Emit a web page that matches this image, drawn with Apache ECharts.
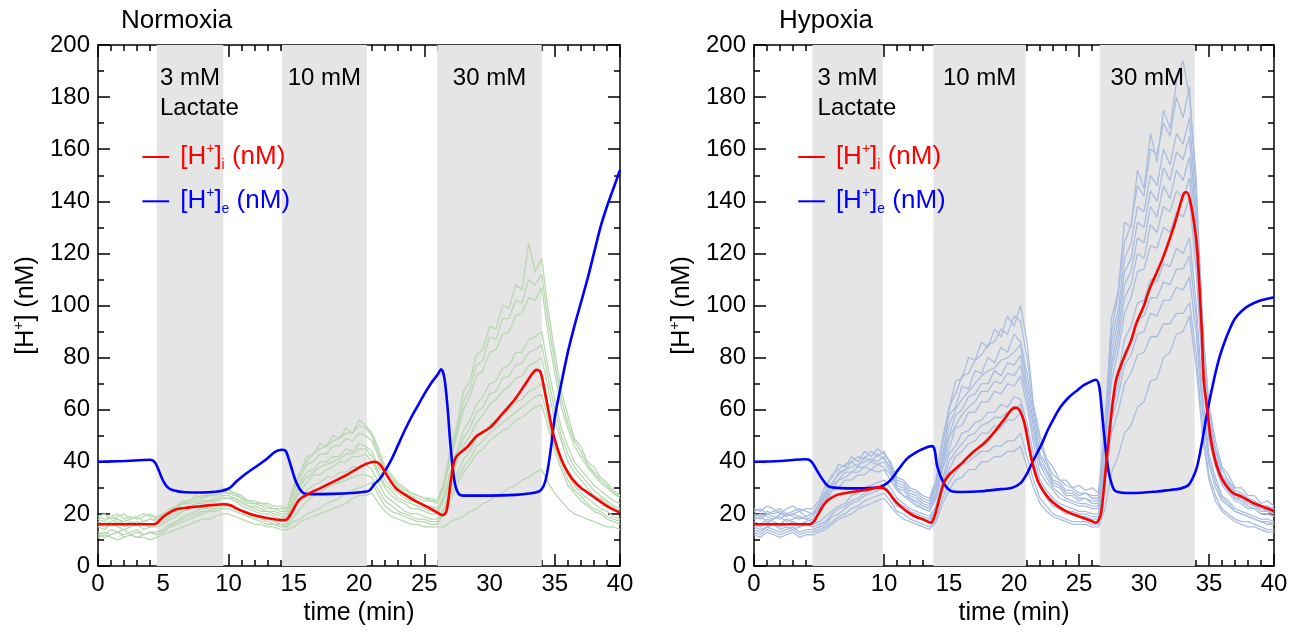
<!DOCTYPE html>
<html>
<head>
<meta charset="utf-8">
<script src="https://cdn.jsdelivr.net/npm/echarts@6/dist/echarts.min.js"></script>
<style>
html, body { margin: 0; padding: 0; background: #fff; }
#chart { width: 1303px; height: 633px; }
</style>
</head>
<body>
<div id="chart"></div>
<script>
// sample times of the single-cell traces (min)
const traceTimes = [0,0.5,1,1.5,2,2.5,3,3.5,4,4.5,5,5.5,6,6.5,7,7.5,8,8.5,9,9.5,10,10.5,11,11.5,12,12.5,13,13.5,14,14.5,15,15.5,16,16.5,17,17.5,18,18.5,19,19.5,20,20.5,21,21.5,22,22.5,23,23.5,24,24.5,25,25.5,26,26.5,27,27.5,28,28.5,29,29.5,30,30.5,31,31.5,32,32.5,33,33.5,34,34.5,35,35.5,36,36.5,37,37.5,38,38.5,39,39.5,40];

// lactate periods (min)
const bandsNormoxia = [[4.5, 9.6], [14.1, 20.6], [26.0, 34.0]];
const bandsHypoxia = [[4.5, 9.9], [13.8, 20.9], [26.6, 33.9]];
const bandLabels = ['3 mM', '10 mM', '30 mM'];

// single cells, normoxia (green)
const normoxiaCells = [
  [19,20,18,19,20,18,19,20,19,19, 20,22,23,25,25,27,26,28,28,30,29, 28,27,25,25,24,24,23,23,22, 31,36,42,43,47,46,50,49,53,51,56,54, 51,45,38,35,32,30,28,27,26,26,25, 32,45,54,67,71,81,83,92,91,100,99,108,106,124,113,118, 98,82,67,58,49,46,40,38,34,32,29,27],
  [19,18,19,20,18,19,18,19,20,18, 20,21,23,24,25,26,27,27,28,29,28, 28,26,25,24,24,23,22,22,22, 30,36,40,43,45,46,48,49,51,51,54,53, 50,43,37,34,31,29,28,27,26,25,25, 31,43,52,63,68,77,79,88,87,95,95,102,101,110,108,112, 94,78,64,55,48,44,39,36,33,31,28,27],
  [18,17,19,18,17,18,19,17,18,18, 19,21,22,24,24,25,26,27,27,28,28, 27,26,24,24,23,22,22,21,21, 29,34,39,40,43,43,46,46,49,48,51,50, 48,42,36,33,30,28,27,26,25,25,24, 30,41,50,60,65,73,75,82,83,89,90,96,97,103,102,107, 89,74,61,53,46,42,38,35,32,30,28,26],
  [17,16,17,18,16,17,16,17,18,17, 18,20,21,22,23,24,25,25,26,27,27, 26,25,23,23,22,21,21,20,20, 27,32,36,37,40,40,42,42,45,44,47,46, 44,38,33,30,28,26,25,24,23,23,22, 27,36,44,52,56,62,65,70,71,76,77,82,82,87,88,90, 76,64,53,46,40,37,34,31,29,27,25,24],
  [16,15,16,17,15,16,17,16,15,16, 17,19,20,22,22,24,24,25,25,26,26, 26,24,23,22,21,21,20,19,19, 25,31,34,36,38,39,40,41,43,43,45,45, 42,36,31,29,26,25,24,23,22,21,21, 26,34,42,49,53,59,61,66,67,72,73,77,78,82,83,85, 72,60,50,43,38,35,32,29,27,25,23,22],
  [15,14,16,15,14,15,16,14,15,15, 16,18,19,21,22,23,23,24,25,26,26, 25,23,22,21,20,20,19,18,18, 24,29,32,35,35,37,38,40,40,42,42,43, 40,35,30,27,25,24,22,22,21,20,20, 25,32,40,46,50,55,58,62,64,67,69,72,73,77,78,80, 68,56,48,40,36,33,30,27,26,24,22,21],
  [13,12,14,13,12,13,14,12,13,13, 14,16,17,19,20,21,22,22,23,24,24, 23,21,20,19,18,18,17,16,16, 22,26,29,31,32,34,34,36,36,38,38,39, 37,32,27,25,23,21,20,20,19,18,18, 22,29,35,41,44,49,51,54,56,59,60,63,64,67,68,70, 59,49,41,35,31,28,26,24,22,21,19,18],
  [12,13,12,13,14,12,13,12,13,12, 13,15,17,18,19,20,21,21,22,23,23, 22,21,19,19,18,17,16,16,15, 19,22,25,27,28,30,31,32,33,34,35,35, 34,29,25,23,21,20,19,18,18,17,17, 21,27,33,38,41,46,48,51,53,55,57,59,61,63,65,66, 56,46,39,33,29,27,24,22,21,19,18,17],
  [12,11,12,13,11,12,11,12,13,12, 13,15,16,17,18,19,20,21,21,22,22, 21,20,19,18,17,16,16,15,15, 17,18,20,21,22,24,25,26,28,29,30,31, 32,27,23,21,20,19,18,17,17,16,16, 20,25,31,36,39,43,45,48,50,52,53,56,57,59,61,62, 53,44,37,31,28,25,23,21,20,18,17,16],
  [11,12,11,10,11,12,11,11,10,11, 12,13,14,15,16,17,18,18,19,20,20, 19,18,17,16,16,15,15,14,14, 15,17,18,19,20,21,22,23,24,26,27,27, 28,24,21,19,18,17,16,16,15,15,15, 15,17,18,19,21,22,24,25,27,28,30,31,33,34,36,37, 32,28,25,22,20,19,18,17,16,15,15,14]
];

// single cells, hypoxia (light blue)
const hypoxiaCells = [
  [22,21,23,22,20,22,23,21,22,22, 25,31,34,39,38,42,40,44,42,45,43, 40,34,33,30,29,27,26, 33,49,60,71,72,80,79,86,84,91,88,96,92,100, 86,62,50,41,38,33,33,30,31,29,30,28, 55,95,105,132,130,152,145,166,155,175,168,186,194,180, 150,92,62,48,38,35,30,30,27,27,24,25,23],
  [21,22,20,21,22,20,21,22,21,20, 24,29,35,37,39,40,42,41,44,42,44, 39,33,32,29,28,26,25, 32,46,61,66,73,74,79,81,85,86,91,89,96,94, 80,60,47,40,35,33,31,30,28,28,27,27, 53,90,104,124,131,146,142,160,158,170,165,180,172,184, 144,93,60,45,37,33,29,28,26,25,23,23,22],
  [20,19,21,20,21,19,20,21,19,20, 23,28,31,36,37,40,38,42,40,43,41, 38,32,31,28,27,25,24, 31,42,58,61,69,68,75,74,80,78,84,82,89,86, 74,58,43,39,33,32,29,29,27,28,26,26, 52,86,98,118,124,138,136,150,146,160,154,166,162,172, 138,90,56,44,35,32,28,27,26,23,23,21,22],
  [19,20,19,18,20,19,20,19,18,19, 22,27,32,35,37,38,39,40,41,40,42, 37,31,30,27,26,24,23, 30,41,54,60,64,67,70,73,75,76,79,80,82,85, 70,55,42,37,32,31,28,28,26,26,25,25, 50,82,94,113,118,132,130,144,140,153,148,159,156,165, 132,86,54,42,34,31,27,26,25,23,22,21,20],
  [19,18,20,19,18,20,19,18,19,20, 22,26,31,33,36,36,38,38,40,39,40, 36,30,29,26,25,23,22, 28,40,50,58,60,65,66,70,70,75,73,78,77,81, 67,53,40,36,31,30,27,27,25,26,24,24, 48,78,90,108,113,126,124,138,134,146,141,152,148,157, 126,82,52,41,33,30,26,26,24,23,21,21,20],
  [18,19,17,18,19,17,18,19,18,17, 20,25,29,33,34,36,36,38,37,39,38, 35,30,27,26,24,22,21, 27,38,49,54,58,61,63,67,67,71,70,74,73,77, 64,50,39,34,30,28,26,25,24,24,23,23, 46,75,86,103,108,120,118,131,128,138,136,144,141,149, 120,79,50,40,32,29,26,25,23,22,20,20,19],
  [17,16,18,17,16,18,17,16,17,18, 20,24,29,30,33,33,35,35,37,36,37, 33,29,27,25,23,22,21, 26,37,45,53,54,59,59,63,63,67,66,70,69,73, 61,47,36,32,29,26,25,24,23,23,22,22, 44,71,82,97,103,113,114,123,122,130,128,136,134,141, 114,75,48,38,31,28,25,24,22,22,20,20,19],
  [16,15,17,16,15,16,17,15,16,16, 17,19,21,23,24,27,28,30,31,32,33, 30,26,24,22,21,20,19, 23,33,43,46,51,52,55,56,59,59,62,61,65,64, 55,43,33,29,26,24,23,22,21,21,20,20, 40,63,73,87,92,101,102,110,109,116,115,122,120,126, 102,66,43,34,27,25,22,21,20,19,18,18,17],
  [15,14,15,16,14,15,14,15,16,15, 16,17,20,22,23,25,26,28,29,30,31, 28,24,23,21,20,19,18, 22,31,40,44,47,50,51,54,55,57,57,59,60,62, 52,40,31,27,25,23,21,21,20,20,19,19, 37,60,69,82,86,95,96,103,103,109,108,114,114,119, 96,62,41,32,26,24,21,20,19,18,17,16,16],
  [14,13,15,14,13,14,15,13,14,14, 15,16,19,20,22,24,25,27,28,29,30, 27,23,22,20,19,18,17, 21,30,37,42,44,47,48,51,51,54,53,56,56,59, 49,38,30,26,23,22,20,20,19,19,18,18, 35,56,65,77,81,89,90,97,96,102,102,107,106,111, 90,59,39,30,25,23,21,20,19,18,17,17,16],
  [13,12,14,13,12,13,14,12,13,13, 14,15,17,19,20,22,23,25,26,27,28, 25,21,20,18,17,16,15, 18,26,32,36,39,40,42,44,44,46,46,48,48,51, 42,33,26,23,20,19,18,17,17,17,16,16, 32,51,59,70,74,81,82,88,88,93,93,97,97,101, 82,53,35,27,22,20,18,17,17,16,15,14,14],
  [12,11,13,12,11,12,13,11,12,12, 13,14,16,18,19,20,22,23,24,25,26, 23,20,18,17,16,15,14, 17,24,29,33,34,37,37,40,40,42,42,44,44,46, 38,30,24,21,19,18,17,16,16,16,15,15, 22,36,42,51,54,61,63,71,72,80,82,89,90,96, 77,50,33,25,21,19,17,16,15,15,14,13,13]
];

// [H+]i and [H+]e, [time, nM]
const hiNormoxia = [[0,16],[2,16],[4.2,16],[4.5,16.4],[5,18.9],[5.5,20.6],[6,21.8],[7,22.5],[8,23],[9,23.5],[9.6,23.7],[10.2,23.2],[10.6,22.1],[11.2,20.8],[11.9,19.6],[13.1,18.3],[14,17.6],[14.4,17.7],[14.8,20.2],[15.4,25.3],[16.2,27.9],[17,29.8],[18,32.3],[19,34.8],[20,37.8],[20.6,39.3],[21.2,40],[21.6,39],[22.2,34.3],[22.8,30],[23.7,26.8],[24.5,24.5],[25.3,22.5],[26,20.5],[26.4,19.5],[26.7,21],[27.05,33],[27.4,41.5],[28.3,45.7],[29,49.8],[30.1,53.4],[31,58.5],[31.9,63.7],[32.7,69.5],[33.3,74],[33.6,75.3],[33.9,74.5],[34.2,68],[34.7,55],[35,48.5],[35.5,41],[36,36],[36.5,32.5],[37,30],[38,26.5],[39,23],[40,20.5]];
const heNormoxia = [[0,40],[2,40.3],[4,40.8],[4.4,39.5],[4.96,33],[5.3,30.4],[5.7,29.2],[6.7,28.3],[8,28.2],[9,28.5],[9.6,29],[10.1,30],[10.6,32.4],[11.3,35.3],[12.1,38.1],[12.9,41],[13.6,43.9],[14.1,44.6],[14.4,44],[14.8,38.1],[15.2,32],[15.7,28.1],[16.3,27.6],[18,27.7],[19.5,28],[20.3,28.4],[20.8,29],[21.2,31.5],[21.6,33.5],[22,36.5],[22.5,41],[23,46.5],[23.5,52],[24,57],[24.5,61.5],[25,66],[25.5,70],[26,73.3],[26.3,75.5],[26.55,72],[26.8,60],[27,47],[27.3,33],[27.6,28],[28,27],[30,27],[32,27.3],[33,27.8],[33.9,29],[34.3,33],[34.7,45],[35,57],[35.5,70],[36,82],[36.5,92],[37,101],[37.5,110],[38,120],[38.5,130],[39,138],[39.5,145],[40,152]];
const hiHypoxia = [[0,16],[2,16],[4.25,16],[4.6,17],[4.9,19.6],[5.3,23],[5.7,25.3],[6.4,27.3],[7.3,28.2],[8.2,28.9],[9,29.6],[9.6,30.2],[10,29.8],[10.4,28],[10.8,25.3],[11.3,22.8],[11.8,20.8],[12.4,19],[13.1,17.7],[13.6,16.6],[13.85,18.5],[14.1,22.8],[14.6,31.8],[15,35],[15.4,36.9],[16,39.5],[16.8,43.5],[17.7,47.1],[18.5,51.5],[19.2,56],[19.8,60],[20.1,60.8],[20.4,60],[20.8,55],[21.3,42],[21.8,33],[22.3,28.5],[22.8,25.3],[23.4,22.8],[24.1,20.8],[24.8,19.4],[25.4,18.3],[26,17.2],[26.3,16.6],[26.5,17.5],[26.7,20.3],[26.9,29],[27.1,39.5],[27.3,49],[27.5,58.7],[27.85,71.4],[28.3,78],[29,86.5],[29.4,93],[30,100],[30.4,106],[31.4,117.6],[32.3,130.4],[32.8,139],[33.1,143.3],[33.3,143.5],[33.6,139],[33.9,130],[34.1,121],[34.3,104],[34.45,90],[34.6,71],[34.9,58.7],[35.1,50],[35.4,42],[35.8,35.5],[36.2,31.8],[36.8,28.2],[37.5,26.6],[38.5,24],[39.5,22.1],[40,21]];
const heHypoxia = [[0,40],[2,40.3],[4,41],[4.4,40.2],[4.9,36.2],[5.3,33],[5.7,30.7],[6.4,30],[8,29.8],[9.5,30.1],[10,31],[10.5,33],[11.1,37],[11.8,41.3],[12.6,44],[13.4,45.8],[13.7,46],[13.9,44.5],[14.1,38.1],[14.6,31.8],[15.15,28.8],[16,28.4],[17.5,28.7],[19,29.5],[19.8,29.9],[20.5,31.8],[21,35.5],[21.5,40.7],[22.1,46.5],[22.6,52.2],[23.1,57],[23.6,61.2],[24.2,64.7],[24.9,67.6],[25.4,69.5],[25.9,70.8],[26.3,71.5],[26.55,69],[26.75,60],[26.9,52],[27.1,43],[27.3,35.7],[27.7,29.2],[28.2,28.2],[29.2,28],[31,28.6],[32,29.2],[32.8,29.7],[33.4,31],[33.8,34.3],[34.1,38.5],[34.4,45.8],[34.9,60],[35.4,72],[35.8,80],[36.2,86],[36.6,91],[37,95],[37.5,97.8],[38,99.8],[39,102],[40,103.2]];

const FONT = '"Liberation Sans", Arial, sans-serif';
const RED = '#ff0000', BLUE = '#0000ff';

const panels = [
  { title: 'Normoxia', titleLeft: 121, grid: { left: 98, top: 45, width: 522, height: 521 },
    bands: bandsNormoxia, cells: normoxiaCells, cellColor: '#b8d8b2', hi: hiNormoxia, he: heNormoxia },
  { title: 'Hypoxia', titleLeft: 779, grid: { left: 754, top: 45, width: 520, height: 521 },
    bands: bandsHypoxia, cells: hypoxiaCells, cellColor: '#a9bde0', hi: hiHypoxia, he: heHypoxia }
];

const tickStyle = { color: '#000', width: 1.5 };

function xAxes(gi) {
  const base = {
    type: 'value', gridIndex: gi, min: 0, max: 40, interval: 5,
    axisLine: { onZero: false, lineStyle: { color: '#000', width: 1.5 } },
    axisTick: { inside: true, length: 12, lineStyle: tickStyle },
    minorTick: { show: true, splitNumber: 5, length: 6, lineStyle: tickStyle },
    splitLine: { show: false }
  };
  return [
    Object.assign({}, base, {
      position: 'bottom', name: 'time (min)', nameLocation: 'middle', nameGap: 35,
      nameTextStyle: { fontSize: 25, color: '#000', fontFamily: FONT },
      axisLabel: { fontSize: 24, color: '#000', fontFamily: FONT, margin: 6 }
    }),
    Object.assign({}, base, { position: 'top', axisLabel: { show: false } })
  ];
}

function yAxes(gi) {
  const base = {
    type: 'value', gridIndex: gi, min: 0, max: 200, interval: 20,
    axisLine: { onZero: false, lineStyle: { color: '#000', width: 1.5 } },
    axisTick: { inside: true, length: 12, lineStyle: tickStyle },
    minorTick: { show: true, splitNumber: 2, length: 6, lineStyle: tickStyle },
    splitLine: { show: false }
  };
  return [
    Object.assign({}, base, {
      position: 'left', name: '{a|[H}{s|+}{a|] (nM)}', nameLocation: 'middle', nameGap: 58, nameRotate: 90,
      nameTextStyle: {
        color: '#000', fontFamily: FONT, fontSize: 25,
        rich: {
          a: { fontSize: 25, lineHeight: 28, color: '#000', fontFamily: FONT },
          s: { fontSize: 14, lineHeight: 14, verticalAlign: 'top', color: '#000', fontFamily: FONT }
        }
      },
      axisLabel: { fontSize: 24, color: '#000', fontFamily: FONT, margin: 8 }
    }),
    Object.assign({}, base, { position: 'right', axisLabel: { show: false } })
  ];
}

const series = [];
const redIndex = [];
panels.forEach((p, k) => {
  const xi = k * 2, yi = k * 2;
  series.push({
    type: 'line', xAxisIndex: xi, yAxisIndex: yi, data: [], z: 1, silent: true,
    markArea: {
      silent: true, itemStyle: { color: '#e5e5e5' },
      data: p.bands.map(b => [{ xAxis: b[0] }, { xAxis: b[1] }])
    }
  });
  p.cells.forEach(vals => {
    series.push({
      type: 'line', xAxisIndex: xi, yAxisIndex: yi, z: 2, silent: true,
      showSymbol: false, symbol: 'none',
      lineStyle: { width: 1.3, color: p.cellColor },
      data: traceTimes.map((t, i) => [t, vals[i]])
    });
  });
  series.push({
    type: 'line', xAxisIndex: xi, yAxisIndex: yi, z: 3, silent: true,
    showSymbol: false, symbol: 'none', smooth: 0.3,
    lineStyle: { width: 2.6, color: BLUE }, data: p.he
  });
  redIndex.push(series.length);
  series.push({
    type: 'line', xAxisIndex: xi, yAxisIndex: yi, z: 4, silent: true,
    showSymbol: false, symbol: 'none', smooth: 0.3,
    lineStyle: { width: 2.6, color: RED }, data: p.hi
  });
});

const option = {
  animation: false,
  backgroundColor: '#fff',
  title: panels.map(p => ({
    text: p.title, left: p.titleLeft, top: 8, padding: 0,
    textStyle: { fontSize: 26, fontWeight: 'normal', color: '#000', fontFamily: FONT }
  })),
  grid: panels.map(p => p.grid),
  xAxis: [].concat(xAxes(0), xAxes(1)),
  yAxis: [].concat(yAxes(0), yAxes(1)),
  series: series
};

const chart = echarts.init(document.getElementById('chart'));
chart.setOption(option);

// band labels and legends placed in data coordinates
const legendRows = [
  { sub: 'i', color: RED, y: 157 },
  { sub: 'e', color: BLUE, y: 140 }
];
const ctx = document.createElement('canvas').getContext('2d');
ctx.font = '24px ' + FONT;

const graphics = [];
panels.forEach((p, k) => {
  const toPx = v => chart.convertToPixel({ seriesIndex: redIndex[k] }, v);
  p.bands.forEach((b, j) => {
    const c = toPx([(b[0] + b[1]) / 2, 187]);
    const w = ctx.measureText(bandLabels[j]).width;
    graphics.push({
      type: 'text', x: c[0] - w / 2, y: c[1] - 15, z: 10,
      style: {
        text: j === 0 ? bandLabels[j] + '\nLactate' : bandLabels[j],
        fill: '#000', fontSize: 24, fontFamily: FONT, lineHeight: 30,
        verticalAlign: 'top', align: 'left'
      }
    });
  });
  legendRows.forEach(r => {
    const a = toPx([3.4, r.y]), b = toPx([5.45, r.y]), t = toPx([6.3, r.y]);
    graphics.push({
      type: 'line', z: 10,
      shape: { x1: a[0], y1: a[1], x2: b[0], y2: b[1] },
      style: { stroke: r.color, lineWidth: 2 }
    });
    graphics.push({
      type: 'text', x: t[0], y: t[1], z: 10,
      style: {
        text: '{a|[H}{s|+}{a|]}{b|' + r.sub + '}{a| (nM)}',
        fill: r.color, verticalAlign: 'middle', align: 'left',
        rich: {
          a: { fontSize: 26, lineHeight: 30, fill: r.color, fontFamily: FONT },
          s: { fontSize: 14, lineHeight: 15, verticalAlign: 'top', fill: r.color, fontFamily: FONT },
          b: { fontSize: 14, lineHeight: 14, verticalAlign: 'bottom', fill: r.color, fontFamily: FONT }
        }
      }
    });
  });
});
chart.setOption({ graphic: graphics });
</script>
</body>
</html>
